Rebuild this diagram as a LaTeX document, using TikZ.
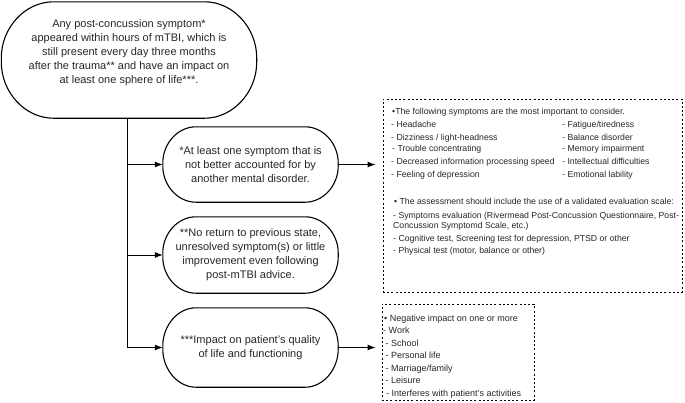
\documentclass[tikz,border=0pt]{standalone}
\usepackage{fontspec}
\setmainfont{Liberation Sans}
\usetikzlibrary{arrows.meta,calc}
% draws a pill-shaped outline (elliptical corners) round a named node
\newcommand\pilloutline[3]{%
  \draw[pillline] let \p1=(#1.north west), \p2=(#1.south east) in
    (\x1+#2,\y1) -- (\x2-#2,\y1)
    .. controls (\x2-0.46*#2,\y1) and (\x2,\y1-0.46*#3) .. (\x2,\y1-#3)
    -- (\x2,\y2+#3)
    .. controls (\x2,\y2+0.46*#3) and (\x2-0.46*#2,\y2) .. (\x2-#2,\y2)
    -- (\x1+#2,\y2)
    .. controls (\x1+0.46*#2,\y2) and (\x1,\y2+0.46*#3) .. (\x1,\y2+#3)
    -- (\x1,\y1-#3)
    .. controls (\x1,\y1-0.46*#3) and (\x1+0.46*#2,\y1) .. cycle;}
\begin{document}
\begin{tikzpicture}[x=1pt,y=-1pt,
  mainbox/.style={align=center, inner sep=0pt,
    font=\fontsize{11}{14}\selectfont, text=black!85},
  pillline/.style={draw=black, line width=1.1pt},
  dbox/.style={draw=black, line width=1pt, dash pattern=on 2pt off 2.2pt, inner sep=0pt},
  small/.style={anchor=base west, inner sep=0pt, font=\fontsize{8.7}{10}\selectfont, text=black!85},
  smallb/.style={small, font=\fontsize{9}{10}\selectfont},
  conn/.style={draw=black, line width=1pt},
  arr/.style={conn, -{Latex[length=8pt,width=6pt]}}
]
\useasboundingbox (0,0) rectangle (685,402);

% main boxes
\node[mainbox, minimum width=255pt, minimum height=116pt] (top) at (129,60)
  {Any post-concussion symptom*\\appeared within hours of mTBI, which is\\still present every day three months\\after the trauma** and have an impact on\\at least one sphere of life***.\\[3pt]};
\node[mainbox, minimum width=175pt, minimum height=75pt] (b2) at (250.5,164.5)
  {*At least one symptom that is\\not better accounted for by\\another mental disorder.};
\node[mainbox, minimum width=175pt, minimum height=76pt] (b3) at (250.5,255)
  {**No return to previous state,\\unresolved symptom(s) or little\\improvement even following\\post-mTBI advice.};
\node[mainbox, minimum width=175pt, minimum height=79pt] (b4) at (250.5,347.5)
  {***Impact on patient's quality\\of life and functioning};
\pilloutline{top}{52pt}{56pt}
\pilloutline{b2}{33pt}{36pt}
\pilloutline{b3}{33pt}{36pt}
\pilloutline{b4}{33pt}{38pt}

% dashed boxes
\node[dbox, minimum width=299pt, minimum height=193pt] (d1) at (532.5,195.5) {};
\node[dbox, minimum width=152pt, minimum height=96pt] (d2) at (458,352) {};

% connectors
\coordinate (spine) at (127,118);
\draw[conn] (spine) -- (spine |- b4.west);
\draw[arr] (spine |- b2.west) -- (b2.west);
\draw[arr] (spine |- b3.west) -- (b3.west);
\draw[arr] (spine |- b4.west) -- (b4.west);
\draw[arr, shorten >=7pt] (b2.east) -- (b2.east -| d1.west);
\draw[arr, shorten >=6pt] (b4.east) -- (b4.east -| d2.west);

% text of first dashed box
\node[small] (t1) at (392,114) {•The following symptoms are the most important to consider.};
\node[small] (t2) at (391,127) {- Headache};
\node[small] (t3) at (391,140) {- Dizziness / light-headness};
\node[small] (t4) at (392,151.5) {- Trouble concentrating};
\node[small] (t5) at (391,164.5) {- Decreased information processing speed};
\node[small] (t6) at (391,177) {- Feeling of depression};
\node[small] (u2) at (562,127) {- Fatigue/tiredness};
\node[small] (u3) at (562,140) {- Balance disorder};
\node[small] (u4) at (562,151.5) {- Memory impairment};
\node[small] (u5) at (562,164.5) {- Intellectual difficulties};
\node[small] (u6) at (562,177.5) {- Emotional lability};
\node[small] (t7) at (394,204) {• The assessment should include the use of a validated evaluation scale:};
\node[small] (t8) at (393,218) {- Symptoms evaluation (Rivermead Post-Concussion Questionnaire, Post-};
\node[small] (t9) at (393,228.5) {Concussion Symptomd Scale, etc.)};
\node[small] (t10) at (393,241) {- Cognitive test, Screening test for depression, PTSD or other};
\node[small] (t11) at (393,253) {- Physical test (motor, balance or other)};

% text of second dashed box
\node[smallb] (v1) at (384,321) {• Negative impact on one or more};
\node[smallb] (v2) at (383,333.5) {- Work};
\node[smallb] (v3) at (385.5,346) {- School};
\node[smallb] (v4) at (385.5,358.5) {- Personal life};
\node[smallb] (v5) at (385.5,371) {- Marriage/family};
\node[smallb] (v6) at (385.5,383.5) {- Leisure};
\node[smallb] (v7) at (386,396) {- Interferes with patient's activities};
\end{tikzpicture}
\end{document}
